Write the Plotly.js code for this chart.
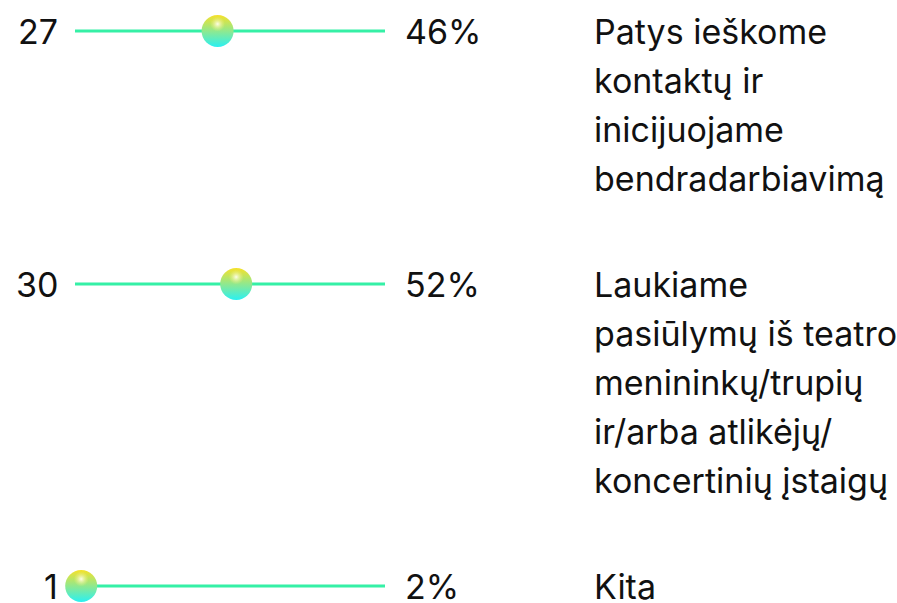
<!DOCTYPE html>
<html>
<head>
<meta charset="utf-8">
<script src="https://cdn.plot.ly/plotly-3.0.1.min.js"></script>
<style>html,body{margin:0;padding:0;background:#fff;}#chart{width:897px;height:603px;}</style>
</head>
<body>
<div id="chart"></div>
<script>
// ---- data ----
var counts = [27, 30, 1];
var percents = [46, 52, 2];
var labels = [
  ["Patys ieškome", "kontaktų ir", "inicijuojame", "bendradarbiavimą"],
  ["Laukiame", "pasiūlymų iš teatro", "menininkų/trupių", "ir/arba atlikėjų/", "koncertinių įstaigų"],
  ["Kita"]
];

// ---- layout constants ----
var W = 897, H = 603;
var lineStartPx = 75, lineEndPx = 385;
var pxPerUnit = (lineEndPx - lineStartPx) / 100;
var xmin = -lineStartPx / pxPerUnit, xmax = xmin + W / pxPerUnit;
var lineH = 49, gap = 57, firstRow = 31;
var FONT = 'Inter, "Liberation Sans", Arial, sans-serif';
var fs = 34;

var rowY = [];
var acc = firstRow;
labels.forEach(function (l, i) { rowY.push(acc); acc += l.length * lineH + gap; });

var traces = [];
var annotations = [];
rowY.forEach(function (y, i) {
  traces.push({
    x: [0, 100], y: [y, y], mode: 'lines', hoverinfo: 'skip',
    line: {color: '#35F0A6', width: 3}, showlegend: false
  });
});
// balls
traces.push({
  x: percents, y: rowY, mode: 'markers', hoverinfo: 'skip', showlegend: false,
  marker: {size: 32, color: '#F6E12A', line: {width: 0},
    gradient: {type: 'vertical', color: '#2AF0F2'}}
});
traces.push({
  x: percents, y: rowY.map(function (y) { return y - 7; }), mode: 'markers', hoverinfo: 'skip', showlegend: false,
  marker: {size: 15, color: 'rgba(250,240,120,0)', line: {width: 0},
    gradient: {type: 'radial', color: 'rgba(255,255,240,0.95)'}}
});

var tf = {family: FONT, size: fs, color: '#111'};
rowY.forEach(function (y, i) {
  annotations.push({
    xref: 'paper', yref: 'y', x: 60 / W, y: y, xanchor: 'right', yanchor: 'middle',
    text: String(counts[i]), showarrow: false, font: tf
  });
  annotations.push({
    xref: 'paper', yref: 'y', x: 403 / W, y: y, xanchor: 'left', yanchor: 'middle',
    text: percents[i] + '%', showarrow: false, font: tf
  });
  labels[i].forEach(function (ln, k) {
    annotations.push({
      xref: 'paper', yref: 'y', x: 592 / W, y: y + k * lineH, xanchor: 'left', yanchor: 'middle', align: 'left',
      text: ln, showarrow: false, font: tf
    });
  });
});

var layout = {
  width: W, height: H,
  margin: {l: 0, r: 0, t: 0, b: 0, pad: 0},
  paper_bgcolor: '#fff', plot_bgcolor: '#fff',
  xaxis: {range: [xmin, xmax], visible: false, fixedrange: true},
  yaxis: {range: [H, 0], visible: false, fixedrange: true},
  annotations: annotations,
  showlegend: false
};
Plotly.newPlot('chart', traces, layout, {displayModeBar: false, staticPlot: true});
</script>
</body>
</html>
